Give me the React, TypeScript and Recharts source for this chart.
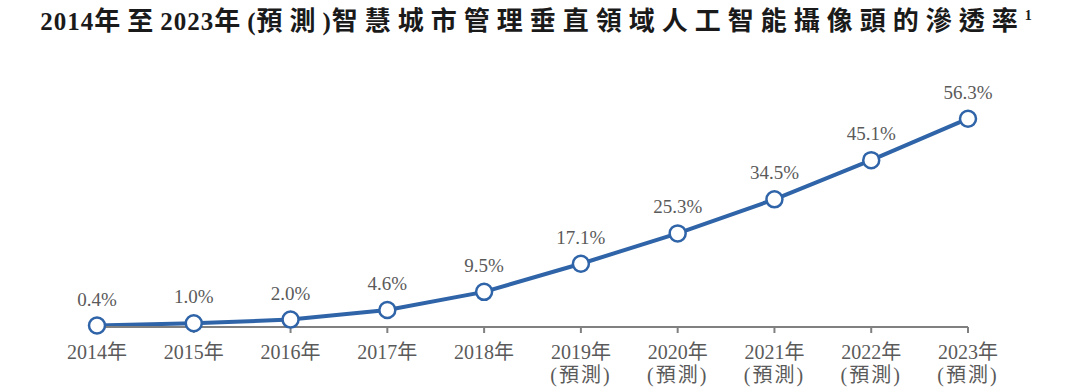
import React from 'react';
import { LineChart, Line, XAxis, YAxis, LabelList } from 'recharts';

const years = ['2014', '2015', '2016', '2017', '2018', '2019', '2020', '2021', '2022', '2023'];
const penetration = [0.4, 1.0, 2.0, 4.6, 9.5, 17.1, 25.3, 34.5, 45.1, 56.3];
const isForecast = [false, false, false, false, false, true, true, true, true, true];
const yearSuffix = '年';
const forecastLabel = '(預測)';
const titleText = '2014年至2023年(預測)智慧城市管理垂直領域人工智能攝像頭的滲透率';
const titleNote = '1';

const data = years.map((y, i) => ({ year: y, value: penetration[i], forecast: isForecast[i] }));

const BLUE = '#2f64a8';
const GRAY_TEXT = '#5a5a5a';
const FONT = '"Liberation Serif", "Noto Sans CJK TC", serif';

const titleRuns = titleText.match(/[\x00-\x7f]+|[^\x00-\x7f]+/g) || [];

const Tick = (props: any) => {
  const { x, y, payload, index } = props;
  const fc = isForecast[index];
  return (
    <g>
      <text x={x} y={y + 24} textAnchor="middle" fontSize={20} fill={GRAY_TEXT} fontFamily={FONT}>
        {payload.value + yearSuffix}
      </text>
      {fc && (
        <text x={x} y={y + 47} textAnchor="middle" fontSize={20} fill={GRAY_TEXT} fontFamily={FONT} letterSpacing={2}>
          {forecastLabel}
        </text>
      )}
    </g>
  );
};

const ValueLabel = (props: any) => {
  const { x, y, value } = props;
  return (
    <text x={x} y={y - 20} textAnchor="middle" fontSize={19} fill={GRAY_TEXT} fontFamily={FONT}>
      {Number(value).toFixed(1)}%
    </text>
  );
};

export default function App() {
  return (
    <div style={{ position: 'absolute', left: 0, top: 0, width: 1080, height: 392, background: '#fff' }}>
      <div
        style={{
          position: 'absolute',
          left: 0,
          top: 5,
          width: 1072,
          textAlign: 'center',
          fontFamily: FONT,
          fontWeight: 700,
          color: '#1a1a1a',
          whiteSpace: 'nowrap',
          lineHeight: '34px',
        }}
      >
        {titleRuns.map((run, i) =>
          /^[\x00-\x7f]+$/.test(run) ? (
            <span key={i} style={{ fontSize: 25, letterSpacing: 1 }}>{run}</span>
          ) : (
            <span key={i} style={{ fontSize: 26, letterSpacing: 7 }}>{run}</span>
          )
        )}
        <sup style={{ fontSize: 14, verticalAlign: 'top', position: 'relative', top: -6 }}>{titleNote}</sup>
      </div>
      <LineChart
        width={1080}
        height={392}
        data={data}
        margin={{ top: 105, right: 112, bottom: 0, left: 97 }}
      >
        <YAxis hide width={0} domain={[0, 60]} />
        <XAxis
          dataKey="year"
          interval={0}
          height={65}
          axisLine={{ stroke: '#808080', strokeWidth: 2 }}
          tickLine={{ stroke: '#808080', strokeWidth: 2 }}
          tickSize={6}
          tick={<Tick />}
        />
        <Line
          type="linear"
          dataKey="value"
          stroke={BLUE}
          strokeWidth={4}
          dot={{ r: 8, fill: '#fff', stroke: BLUE, strokeWidth: 2.5 }}
          isAnimationActive={false}
        >
          <LabelList dataKey="value" content={<ValueLabel />} />
        </Line>
      </LineChart>
    </div>
  );
}
